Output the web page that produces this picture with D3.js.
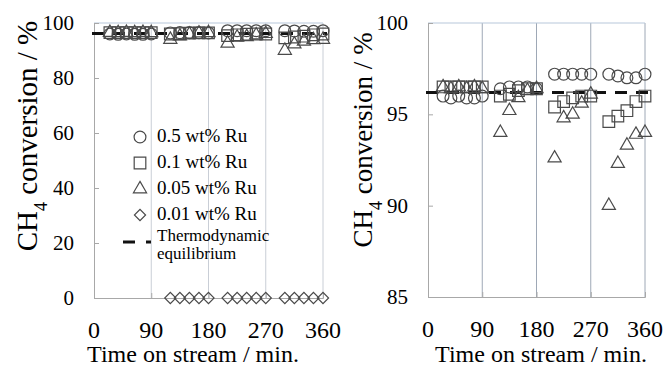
<!DOCTYPE html>
<html>
<head>
<meta charset="utf-8">
<script src="https://cdn.jsdelivr.net/npm/d3@7"></script>
<style>
  body { margin: 0; background: #fff; }
  svg { display: block; font-family: "Liberation Serif", "Times New Roman", serif; }
</style>
</head>
<body>
<svg id="chart" width="668" height="369"></svg>
<script>
// time on stream (min) for each measurement
const timeMin = [25, 38, 51, 64, 77, 90, 120, 135, 150, 165, 180, 210, 225, 240, 255, 270, 300, 315, 330, 345, 360];
// CH4 conversion (%) for each catalyst
const ru05 = [96.0, 95.9, 96.0, 95.9, 95.9, 96.0, 96.4, 96.5, 96.5, 96.5, 96.4, 97.2, 97.2, 97.2, 97.2, 97.2, 97.2, 97.1, 97.0, 97.0, 97.2];
const ru01 = [96.5, 96.5, 96.5, 96.5, 96.5, 96.5, 96.0, 96.1, 96.3, 96.4, 96.4, 95.4, 95.7, 95.9, 96.0, 96.0, 94.6, 94.9, 95.2, 95.7, 96.0];
const ru005 = [96.5, 96.4, 96.5, 96.4, 96.5, 96.4, 94.0, 95.2, 95.9, 96.3, 96.4, 92.6, 94.8, 95.0, 95.6, 96.1, 90.0, 92.3, 93.3, 93.9, 94.0];
const ru001 = [null, null, null, null, null, null, 0, 0, 0, 0, 0, 0, 0, 0, 0, 0, 0, 0, 0, 0, 0];
const equilibrium = 96.2;

const seriesNames = ["0.5 wt% Ru", "0.1 wt% Ru", "0.05 wt% Ru", "0.01 wt% Ru"];
const xTicks = [0, 90, 180, 270, 360];
const yTicksLeft = [0, 20, 40, 60, 80, 100];
const yTicksRight = [85, 90, 95, 100];

// diamond = square turned 45 degrees
const seriesList = [
  { name: seriesNames[0], values: ru05, symbol: d3.symbolCircle, size: 110, rot: 0 },
  { name: seriesNames[1], values: ru01, symbol: d3.symbolSquare, size: 135, rot: 0 },
  { name: seriesNames[2], values: ru005, symbol: d3.symbolTriangle, size: 75, rot: 0 },
  { name: seriesNames[3], values: ru001, symbol: d3.symbolSquare, size: 62, rot: 45 }
];

const svg = d3.select("#chart");
const markColor = "#4a4a4a";

function drawPanel(p) {
  const x = d3.scaleLinear().domain([0, 360]).range([p.x0, p.x1]);
  const y = d3.scaleLinear().domain(p.yDomain).range([p.y0, p.y1]);
  const g = svg.append("g");

  // vertical grid lines
  g.selectAll(".vgrid")
    .data(xTicks.slice(1))
    .enter()
    .append("line")
    .attr("x1", (d) => x(d)).attr("x2", (d) => x(d))
    .attr("y1", y(p.yDomain[1])).attr("y2", y(p.yDomain[0]))
    .attr("stroke", p.gridColor)
    .attr("stroke-width", 1);

  // top border
  g.append("line")
    .attr("x1", x(0)).attr("x2", x(360))
    .attr("y1", y(p.yDomain[1])).attr("y2", y(p.yDomain[1]))
    .attr("stroke", "#b7c7da");

  // y axis
  const yAxis = g.append("g")
    .attr("transform", `translate(${x(0)},0)`)
    .call(d3.axisRight(y).tickValues(p.yTicks).tickSize(5).tickFormat(""));
  yAxis.select(".domain").attr("stroke", "#a8a8a8");
  yAxis.selectAll(".tick line").attr("stroke", "#a8a8a8");

  g.selectAll(".ylab")
    .data(p.yTicks)
    .enter()
    .append("text")
    .attr("x", x(0) - 20)
    .attr("y", (d) => y(d) + 7)
    .attr("text-anchor", "end")
    .style("font-size", "21px")
    .text((d) => d);

  // x axis
  const xAxis = g.append("g")
    .attr("transform", `translate(0,${y(p.yDomain[0])})`)
    .call(d3.axisTop(x).tickValues(xTicks).tickSize(5).tickFormat(""));
  xAxis.select(".domain").attr("stroke", "#a8a8a8");
  xAxis.selectAll(".tick line").attr("stroke", "#a8a8a8");

  g.selectAll(".xlab")
    .data(xTicks)
    .enter()
    .append("text")
    .attr("x", (d) => x(d))
    .attr("y", y(p.yDomain[0]) + 40)
    .attr("text-anchor", "middle")
    .style("font-size", "24px")
    .text((d) => d);

  // thermodynamic equilibrium
  g.append("line")
    .attr("x1", x(0) - 2).attr("x2", x(360) + 4)
    .attr("y1", y(equilibrium)).attr("y2", y(equilibrium))
    .attr("stroke", "#111")
    .attr("stroke-width", 3)
    .attr("stroke-dasharray", "12,9");

  // data points
  seriesList.forEach((s) => {
    const pts = timeMin
      .map((t, i) => ({ t: t, v: s.values[i] }))
      .filter((d) => d.v !== null && d.v >= p.yDomain[0] && d.v <= p.yDomain[1]);
    g.selectAll(null)
      .data(pts)
      .enter()
      .append("path")
      .attr("d", d3.symbol().type(s.symbol).size(s.size))
      .attr("transform", (d) => `translate(${x(d.t)},${y(d.v)}) rotate(${s.rot})`)
      .attr("fill", "none")
      .attr("stroke", markColor)
      .attr("stroke-width", 1.2);
  });

  // axis titles
  g.append("text")
    .attr("x", p.xTitleX)
    .attr("y", 362)
    .attr("text-anchor", "middle")
    .style("font-size", "24px")
    .text("Time on stream / min.");

  const yt = g.append("text")
    .attr("transform", `translate(${p.yTitleX},${p.yTitleY}) rotate(-90)`)
    .attr("text-anchor", "middle")
    .style("font-size", p.yTitleSize);
  yt.append("tspan").text("CH");
  yt.append("tspan").attr("baseline-shift", "sub").style("font-size", "18px").text("4");
  yt.append("tspan").text(" conversion  / %");

  return { x, y, g };
}

drawPanel({
  x0: 94, x1: 323, y0: 298, y1: 23,
  yDomain: [0, 100], yTicks: yTicksLeft,
  gridColor: "#c9ced6",
  xTitleX: 193, yTitleX: 37, yTitleY: 136, yTitleSize: "29px"
});

drawPanel({
  x0: 428, x1: 645, y0: 297, y1: 23,
  yDomain: [85, 100], yTicks: yTicksRight,
  gridColor: "#9ea8b6",
  xTitleX: 541, yTitleX: 372, yTitleY: 140, yTitleSize: "27px"
});

// legend (left panel)
const legend = svg.append("g");
seriesList.forEach((s, i) => {
  const ly = 137 + i * 26;
  legend.append("path")
    .attr("d", d3.symbol().type(s.symbol).size(s.size))
    .attr("transform", `translate(140,${ly}) rotate(${s.rot})`)
    .attr("fill", "none")
    .attr("stroke", markColor)
    .attr("stroke-width", 1.2);
  legend.append("text")
    .attr("x", 157)
    .attr("y", ly + 5)
    .style("font-size", "19px")
    .text(s.name);
});
legend.append("line")
  .attr("x1", 123).attr("x2", 151)
  .attr("y1", 242).attr("y2", 242)
  .attr("stroke", "#111")
  .attr("stroke-width", 3)
  .attr("stroke-dasharray", "12,11");
legend.append("text")
  .attr("x", 157).attr("y", 241)
  .style("font-size", "17px")
  .text("Thermodynamic");
legend.append("text")
  .attr("x", 157).attr("y", 259)
  .style("font-size", "17px")
  .text("equilibrium");
</script>
</body>
</html>
